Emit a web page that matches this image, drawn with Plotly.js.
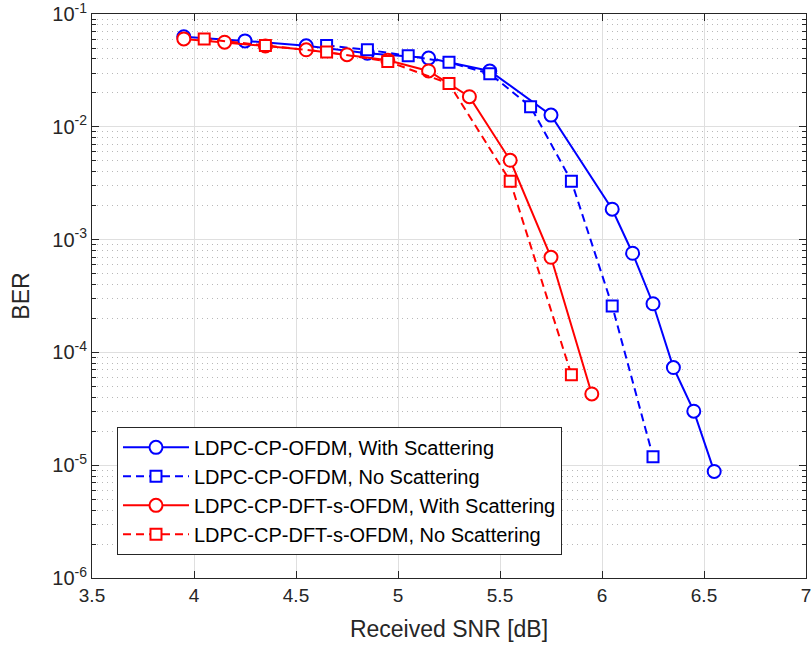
<!DOCTYPE html>
<html>
<head>
<meta charset="utf-8">
<script src="https://cdn.plot.ly/plotly-3.0.1.min.js"></script>
<style>html,body{margin:0;padding:0;background:#fff;}#chart{width:812px;height:646px;}</style>
</head>
<body>
<div id="chart"></div>
<script>
// Data
const ofdmScatX = [3.95, 4.25, 4.55, 4.85, 5.15, 5.45, 5.75, 6.05, 6.15, 6.25, 6.35, 6.45, 6.55];
const ofdmScatY = [0.0628, 0.0578, 0.0523, 0.045, 0.0407, 0.0313, 0.0127, 0.00186, 0.000757, 0.00027, 0.0000734, 0.0000301, 0.0000088];
const ofdmNoScatX = [4.65, 4.85, 5.05, 5.25, 5.45, 5.65, 5.85, 6.05, 6.25];
const ofdmNoScatY = [0.0526, 0.0482, 0.0427, 0.0373, 0.0296, 0.0151, 0.0033, 0.000258, 0.0000119];
const dftScatX = [3.95, 4.15, 4.35, 4.55, 4.75, 4.95, 5.15, 5.35, 5.55, 5.75, 5.95];
const dftScatY = [0.0602, 0.0563, 0.052, 0.0482, 0.0436, 0.0389, 0.0313, 0.0185, 0.00505, 0.000697, 0.0000428];
const dftNoScatX = [4.05, 4.35, 4.65, 4.95, 5.25, 5.55, 5.85];
const dftNoScatY = [0.0602, 0.0526, 0.046, 0.038, 0.0242, 0.0033, 0.0000634];
const seriesNames = ['LDPC-CP-OFDM, With Scattering', 'LDPC-CP-OFDM, No Scattering', 'LDPC-CP-DFT-s-OFDM, With Scattering', 'LDPC-CP-DFT-s-OFDM, No Scattering'];
const yTickVals = [1e-6, 1e-5, 1e-4, 1e-3, 1e-2, 1e-1];
const yTickText = ['10<sup>-6</sup>', '10<sup>-5</sup>', '10<sup>-4</sup>', '10<sup>-3</sup>', '10<sup>-2</sup>', '10<sup>-1</sup>'];
const xTickVals = [3.5, 4, 4.5, 5, 5.5, 6, 6.5, 7];
const minorDigits = [2, 3, 4, 5, 6, 7, 8, 9];

const yMinorVals = [];
yTickVals.slice(0, -1).forEach(d => minorDigits.forEach(m => yMinorVals.push(d * m)));

function tr(x, y, name, color, sym, dash, grp) {
  return {
    x: x, y: y, name: name, type: 'scatter', mode: 'lines+markers', legendgroup: grp,
    line: {color: color, width: 2, dash: dash},
    marker: {symbol: sym, size: sym === 'circle' ? 13 : 11, color: 'white', line: {color: color, width: 2}}
  };
}
const data = [
  tr(ofdmScatX, ofdmScatY, seriesNames[0], '#0000ff', 'circle', 'solid', 'g1'),
  tr(ofdmNoScatX, ofdmNoScatY, seriesNames[1], '#0000ff', 'square', '8px,5px', 'g2'),
  tr(dftScatX, dftScatY, seriesNames[2], '#ff0000', 'circle', 'solid', 'g3'),
  tr(dftNoScatX, dftNoScatY, seriesNames[3], '#ff0000', 'square', '8px,5px', 'g4')
];
const font = 'Liberation Sans, Arial, sans-serif';
const layout = {
  width: 812, height: 646,
  margin: {l: 92, r: 6, t: 14, b: 68},
  paper_bgcolor: '#fff', plot_bgcolor: '#fff',
  font: {family: font, size: 19, color: '#262626'},
  showlegend: true,
  legend: {
    x: 0.035, y: 0.268, xanchor: 'left', yanchor: 'top',
    bgcolor: '#fff', bordercolor: '#262626', borderwidth: 1,
    font: {family: font, size: 20, color: '#000'},
    itemwidth: 66, tracegroupgap: 0
  },
  xaxis: {
    range: [3.5, 7], tickvals: xTickVals, ticktext: xTickVals.map(String),
    showline: true, linecolor: '#262626', linewidth: 1, mirror: 'ticks',
    ticks: 'inside', ticklen: 7, tickcolor: '#262626',
    showgrid: true, gridcolor: '#dfdfdf', gridwidth: 1, zeroline: false,
    title: {text: 'Received SNR [dB]', font: {size: 23}, standoff: 16},
    tickfont: {size: 19}, ticklabeloverflow: 'allow'
  },
  yaxis: {
    type: 'log', range: [-6.0004, -0.9996], tickvals: yTickVals, ticktext: yTickText,
    showline: true, linecolor: '#262626', linewidth: 1, mirror: 'ticks',
    ticks: 'inside', ticklen: 7, tickcolor: '#262626',
    showgrid: true, gridcolor: '#dfdfdf', gridwidth: 1, zeroline: false,
    minor: {tickmode: 'array', tickvals: yMinorVals, ticks: 'inside', ticklen: 4, tickcolor: '#262626', showgrid: true, gridcolor: '#b8b8b8', griddash: '1px,4px', gridwidth: 1},
    title: {text: 'BER', font: {size: 23}, standoff: 16},
    tickfont: {size: 20}, ticklabeloverflow: 'allow'
  }
};
Plotly.newPlot('chart', data, layout, {displayModeBar: false, staticPlot: true});
</script>
</body>
</html>
